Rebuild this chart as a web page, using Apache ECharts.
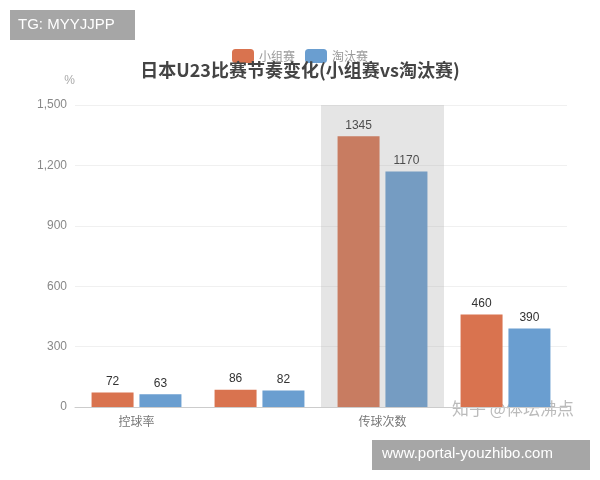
<!DOCTYPE html>
<html><head><meta charset="utf-8">
<script src="https://cdn.jsdelivr.net/npm/echarts@6/dist/echarts.min.js"></script>
<style>html,body{margin:0;padding:0;background:#fff}#c{width:600px;height:480px}</style>
</head><body><div id="c"></div>
<script>
const categories = ['控球率', '', '传球次数', ''];
const groupStage = [72, 86, 1345, 460];
const knockout = [63, 82, 1170, 390];
const yTicks = [0, 300, 600, 900, 1200, 1500];

const chart = echarts.init(document.getElementById('c'));
chart.setOption({
  animation: false,
  title: {text: '日本U23比赛节奏变化(小组赛vs淘汰赛)', left: 'center', top: 56,
    textStyle: {fontFamily: 'Noto Sans CJK SC', fontSize: 18, fontWeight: 'bold', color: '#444'}},
  legend: {top: 44, left: 'center', itemWidth: 22, itemHeight: 14, itemGap: 10,
    textStyle: {color: '#999', fontSize: 12, fontFamily: 'Noto Sans CJK SC'},
    data: ['小组赛', '淘汰赛']},
  grid: {left: 75, right: 33, top: 105, bottom: 73},
  xAxis: {type: 'category', data: categories,
    axisLine: {lineStyle: {color: '#ccc'}}, axisTick: {show: false},
    axisLabel: {color: '#777', fontSize: 12, fontFamily: 'Noto Sans CJK SC', margin: 8},
    axisPointer: {show: true, type: 'shadow', value: 2, status: 'show', label: {show: false},
      shadowStyle: {color: 'rgba(150,150,150,0.25)'}, triggerTooltip: false}},
  yAxis: {type: 'value', min: yTicks[0], max: yTicks[yTicks.length - 1], interval: 300,
    name: '%', nameGap: 18, nameTextStyle: {color: '#aaa', fontSize: 12, align: 'right'},
    axisLabel: {color: '#888', fontSize: 12,
      formatter: v => v.toLocaleString('en-US')},
    splitLine: {lineStyle: {color: '#f0f0f0'}}},
  series: [
    {name: '小组赛', type: 'bar', data: groupStage, barWidth: 42, barGap: '14%',
      itemStyle: {color: '#D9734F'},
      label: {show: true, position: 'top', color: '#333', fontSize: 12}},
    {name: '淘汰赛', type: 'bar', data: knockout, barWidth: 42,
      itemStyle: {color: '#6A9ED0'},
      label: {show: true, position: 'top', color: '#333', fontSize: 12}}
  ],
  graphic: [
    {type: 'rect', left: 10, top: 10, shape: {width: 125, height: 30}, style: {fill: '#a6a6a6'}},
    {type: 'text', left: 18, top: 17, style: {text: 'TG: MYYJJPP', fill: '#fff', fontSize: 15, fontFamily: 'Liberation Sans'}},
    {type: 'text', left: 452, top: 400, style: {text: '知乎 @体坛沸点', fill: '#bbb', fontSize: 17, fontFamily: 'Noto Sans CJK SC'}},
    {type: 'rect', left: 372, top: 440, shape: {width: 218, height: 30}, style: {fill: '#a6a6a6'}},
    {type: 'text', left: 382, top: 446, style: {text: 'www.portal-youzhibo.com', fill: '#fff', fontSize: 15, fontFamily: 'Liberation Sans'}}
  ]
});
</script></body></html>
